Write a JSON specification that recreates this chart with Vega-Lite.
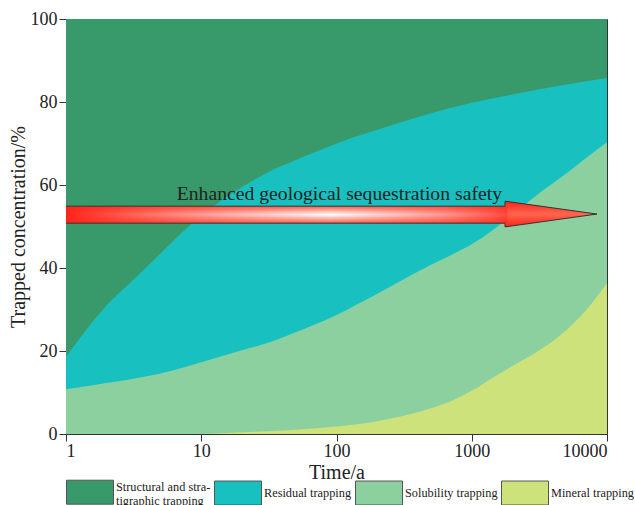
{
  "$schema": "https://vega.github.io/schema/vega-lite/v6.json",
  "width": 541,
  "height": 415,
  "autosize": {"type": "none"},
  "padding": {"left": 66, "top": 19, "right": 28, "bottom": 71},
  "background": "white",
  "config": {
    "view": {"stroke": "#333", "strokeWidth": 1},
    "axis": {
      "labelFont": "Liberation Serif",
      "titleFont": "Liberation Serif",
      "labelColor": "#222",
      "titleColor": "#222",
      "labelFontSize": 18,
      "titleFontSize": 20,
      "titleFontWeight": "normal",
      "domainColor": "#333",
      "tickColor": "#333",
      "grid": false
    },
    "axisX": {"tickSize": 7, "labelPadding": 1, "titlePadding": 2},
    "axisY": {"tickSize": 7, "labelPadding": 2, "titlePadding": 2}
  },
  "datasets": {
    "trapping": [
      {"type": "Structural and stratigraphic trapping", "t": 1, "v": 100},
      {"type": "Structural and stratigraphic trapping", "t": 10000, "v": 100},
      {"type": "Residual trapping", "t": 1, "v": 18.6},
      {"type": "Residual trapping", "t": 1.5, "v": 26.2},
      {"type": "Residual trapping", "t": 2, "v": 31.0},
      {"type": "Residual trapping", "t": 3, "v": 36.5},
      {"type": "Residual trapping", "t": 5, "v": 43.5},
      {"type": "Residual trapping", "t": 7, "v": 48.2},
      {"type": "Residual trapping", "t": 10, "v": 52.6},
      {"type": "Residual trapping", "t": 20, "v": 59.5},
      {"type": "Residual trapping", "t": 30, "v": 62.8},
      {"type": "Residual trapping", "t": 50, "v": 66.0},
      {"type": "Residual trapping", "t": 100, "v": 70.0},
      {"type": "Residual trapping", "t": 200, "v": 73.3},
      {"type": "Residual trapping", "t": 500, "v": 77.3},
      {"type": "Residual trapping", "t": 1000, "v": 79.8},
      {"type": "Residual trapping", "t": 2000, "v": 81.8},
      {"type": "Residual trapping", "t": 5000, "v": 84.2},
      {"type": "Residual trapping", "t": 10000, "v": 85.8},
      {"type": "Solubility trapping", "t": 1, "v": 10.8},
      {"type": "Solubility trapping", "t": 2, "v": 12.3},
      {"type": "Solubility trapping", "t": 3, "v": 13.2},
      {"type": "Solubility trapping", "t": 5, "v": 14.6},
      {"type": "Solubility trapping", "t": 10, "v": 17.3},
      {"type": "Solubility trapping", "t": 20, "v": 20.2},
      {"type": "Solubility trapping", "t": 30, "v": 21.8},
      {"type": "Solubility trapping", "t": 50, "v": 24.5},
      {"type": "Solubility trapping", "t": 100, "v": 28.7},
      {"type": "Solubility trapping", "t": 200, "v": 33.8},
      {"type": "Solubility trapping", "t": 500, "v": 40.8},
      {"type": "Solubility trapping", "t": 700, "v": 43.1},
      {"type": "Solubility trapping", "t": 1000, "v": 45.7},
      {"type": "Solubility trapping", "t": 2000, "v": 52.8},
      {"type": "Solubility trapping", "t": 3000, "v": 57.5},
      {"type": "Solubility trapping", "t": 5000, "v": 62.8},
      {"type": "Solubility trapping", "t": 7000, "v": 66.5},
      {"type": "Solubility trapping", "t": 10000, "v": 70.3},
      {"type": "Mineral trapping", "t": 1, "v": 0},
      {"type": "Mineral trapping", "t": 10, "v": 0},
      {"type": "Mineral trapping", "t": 20, "v": 0.4},
      {"type": "Mineral trapping", "t": 50, "v": 1.0},
      {"type": "Mineral trapping", "t": 100, "v": 1.8},
      {"type": "Mineral trapping", "t": 200, "v": 3.1},
      {"type": "Mineral trapping", "t": 500, "v": 6.2},
      {"type": "Mineral trapping", "t": 700, "v": 7.9},
      {"type": "Mineral trapping", "t": 1000, "v": 10.4},
      {"type": "Mineral trapping", "t": 1500, "v": 14.0},
      {"type": "Mineral trapping", "t": 2000, "v": 16.4},
      {"type": "Mineral trapping", "t": 3000, "v": 19.7},
      {"type": "Mineral trapping", "t": 5000, "v": 25.0},
      {"type": "Mineral trapping", "t": 7000, "v": 29.8},
      {"type": "Mineral trapping", "t": 10000, "v": 36.4}
    ],
    "arrowBody": [
      {"t": 1, "t2": 1850, "lo": 50.8, "hi": 54.9}
    ],
    "arrowEdges": [
      {"t": 1, "t2": 1762, "v": 54.9},
      {"t": 1, "t2": 1762, "v": 50.8}
    ],
    "arrowHead": [
      {"t": 1762, "lo": 49.9, "hi": 56.1},
      {"t": 8435, "lo": 53.0, "hi": 53.0}
    ],
    "note": [
      {"t": 105, "v": 56.4, "text": "Enhanced geological sequestration safety"}
    ]
  },
  "layer": [
    {
      "data": {"name": "trapping"},
      "transform": [{"filter": "datum.type === 'Structural and stratigraphic trapping'"}],
      "mark": {"type": "area", "interpolate": "monotone", "orient": "vertical"},
      "encoding": {
        "x": {"field": "t", "type": "quantitative", "title": "Time/a",
              "scale": {"type": "log", "domain": [1, 10000]},
              "axis": {"values": [1, 10, 100, 1000, 10000], "format": "d"}},
        "y": {"field": "v", "type": "quantitative", "stack": null, "title": "Trapped concentration/%",
              "scale": {"domain": [0, 100]},
              "axis": {"values": [0, 20, 40, 60, 80, 100]}},
        "color": {
          "field": "type", "type": "nominal",
          "scale": {
            "domain": ["Structural and stratigraphic trapping", "Residual trapping", "Solubility trapping", "Mineral trapping"],
            "range": ["#389a6a", "#19c0c0", "#8dd0a0", "#cde27b"]
          },
          "legend": {
            "orient": "none", "legendX": 0, "legendY": 449,
            "direction": "horizontal", "columns": 4, "title": null,
            "symbolType": "M-1,-0.51H1V0.51H-1Z", "symbolSize": 2209,
            "symbolStrokeColor": "#555", "symbolStrokeWidth": 1, "symbolOpacity": 1,
            "labelFont": "Liberation Serif", "labelFontSize": 12.3, "labelColor": "#222",
            "labelOffset": 2, "columnPadding": 1, "labelLimit": 200,
            "labelExpr": "datum.label == 'Structural and stratigraphic trapping' ? ['Structural and stra-', 'tigraphic trapping'] : datum.label",
            "encode": {
              "labels": {
                "update": {
                  "dy": {"signal": "datum.value === 'Structural and stratigraphic trapping' ? -5 : 0"}
                }
              }
            }
          }
        }
      }
    },
    {
      "data": {"name": "trapping"},
      "transform": [{"filter": "datum.type === 'Residual trapping'"}],
      "mark": {"type": "area", "interpolate": "monotone", "orient": "vertical"},
      "encoding": {
        "x": {"field": "t", "type": "quantitative", "title": "Time/a"},
        "y": {"field": "v", "type": "quantitative", "stack": null, "title": "Trapped concentration/%"},
        "color": {"field": "type", "type": "nominal"}
      }
    },
    {
      "data": {"name": "trapping"},
      "transform": [{"filter": "datum.type === 'Solubility trapping'"}],
      "mark": {"type": "area", "interpolate": "monotone", "orient": "vertical"},
      "encoding": {
        "x": {"field": "t", "type": "quantitative", "title": "Time/a"},
        "y": {"field": "v", "type": "quantitative", "stack": null, "title": "Trapped concentration/%"},
        "color": {"field": "type", "type": "nominal"}
      }
    },
    {
      "data": {"name": "trapping"},
      "transform": [{"filter": "datum.type === 'Mineral trapping'"}],
      "mark": {"type": "area", "interpolate": "monotone", "orient": "vertical"},
      "encoding": {
        "x": {"field": "t", "type": "quantitative", "title": "Time/a"},
        "y": {"field": "v", "type": "quantitative", "stack": null, "title": "Trapped concentration/%"},
        "color": {"field": "type", "type": "nominal"}
      }
    },
    {
      "data": {"name": "arrowHead"},
      "mark": {
        "type": "area", "interpolate": "linear", "orient": "vertical",
        "stroke": "#333", "strokeWidth": 1,
        "fill": {
          "gradient": "linear", "x1": 0, "y1": 0, "x2": 0, "y2": 1,
          "stops": [
            {"offset": 0, "color": "#ff2418"},
            {"offset": 0.5, "color": "#ff6650"},
            {"offset": 1, "color": "#ff2418"}
          ]
        }
      },
      "encoding": {
        "x": {"field": "t", "type": "quantitative", "title": "Time/a"},
        "y": {"field": "hi", "type": "quantitative", "title": "Trapped concentration/%"},
        "y2": {"field": "lo"}
      }
    },
    {
      "data": {"name": "arrowBody"},
      "mark": {
        "type": "rect",
        "fill": {
          "gradient": "linear", "x1": 0, "y1": 0, "x2": 0, "y2": 1,
          "stops": [
            {"offset": 0, "color": "#ff5a48"},
            {"offset": 0.5, "color": "#ffffff"},
            {"offset": 1, "color": "#ff5a48"}
          ]
        }
      },
      "encoding": {
        "x": {"field": "t", "type": "quantitative", "title": "Time/a"},
        "x2": {"field": "t2"},
        "y": {"field": "hi", "type": "quantitative", "title": "Trapped concentration/%"},
        "y2": {"field": "lo"}
      }
    },
    {
      "data": {"name": "arrowBody"},
      "mark": {
        "type": "rect",
        "fill": {
          "gradient": "linear", "x1": 0, "y1": 0, "x2": 1, "y2": 0,
          "stops": [
            {"offset": 0, "color": "rgba(255,36,24,1)"},
            {"offset": 0.3, "color": "rgba(255,60,45,0.5)"},
            {"offset": 0.6, "color": "rgba(255,80,60,0)"},
            {"offset": 0.85, "color": "rgba(255,60,45,0.5)"},
            {"offset": 1, "color": "rgba(255,40,28,0.85)"}
          ]
        }
      },
      "encoding": {
        "x": {"field": "t", "type": "quantitative", "title": "Time/a"},
        "x2": {"field": "t2"},
        "y": {"field": "hi", "type": "quantitative", "title": "Trapped concentration/%"},
        "y2": {"field": "lo"}
      }
    },
    {
      "data": {"name": "arrowEdges"},
      "mark": {"type": "rule", "color": "#333", "strokeWidth": 1},
      "encoding": {
        "x": {"field": "t", "type": "quantitative", "title": "Time/a"},
        "x2": {"field": "t2"},
        "y": {"field": "v", "type": "quantitative", "title": "Trapped concentration/%"}
      }
    },
    {
      "data": {"name": "note"},
      "mark": {"type": "text", "font": "Liberation Serif", "fontSize": 19.7, "color": "#222", "align": "center", "baseline": "alphabetic"},
      "encoding": {
        "x": {"field": "t", "type": "quantitative", "title": "Time/a"},
        "y": {"field": "v", "type": "quantitative", "title": "Trapped concentration/%"},
        "text": {"field": "text"}
      }
    }
  ]
}
